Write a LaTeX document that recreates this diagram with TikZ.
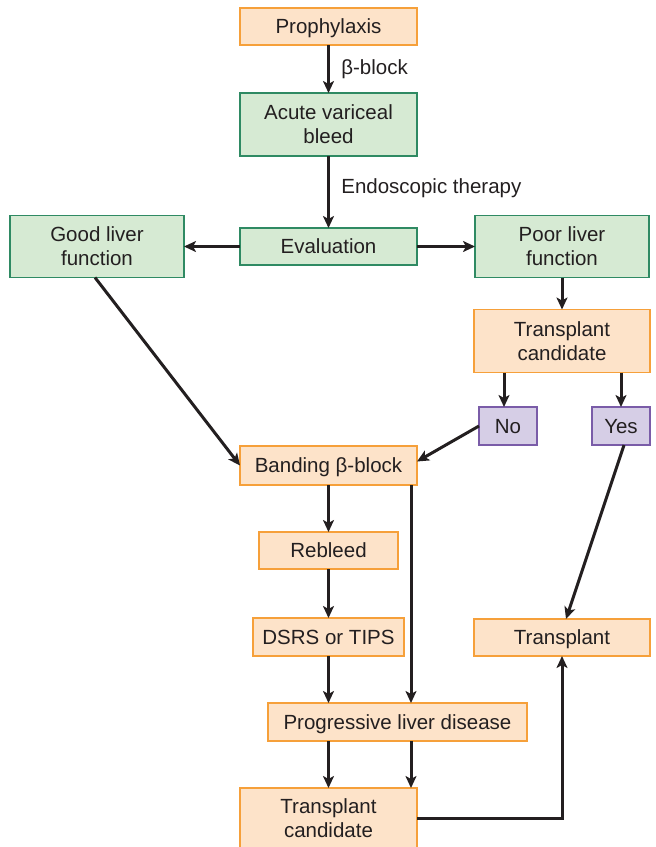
\documentclass[tikz,border=0pt]{standalone}
\usepackage{fontspec}
\setmainfont{Liberation Sans}
\usepackage{xcolor}
\usetikzlibrary{arrows.meta,positioning}

\definecolor{orfill}{HTML}{FDE3C9}
\definecolor{ordraw}{HTML}{F6A03A}
\definecolor{grfill}{HTML}{D6EAD3}
\definecolor{grdraw}{HTML}{2F8A63}
\definecolor{pufill}{HTML}{D6CEE6}
\definecolor{pudraw}{HTML}{7A5CA8}
\definecolor{ink}{HTML}{231F20}

\begin{document}
\begin{tikzpicture}[
    font=\fontsize{20.5}{24}\selectfont, text=ink,
    stage/.style={draw=ordraw, fill=orfill, line width=1.4pt, inner sep=0pt, outer sep=0pt, align=center, minimum width=177pt, minimum height=37pt},
    state/.style={draw=grdraw, fill=grfill, line width=1.4pt, inner sep=0pt, outer sep=0pt, align=center, minimum width=177pt, minimum height=37pt},
    choice/.style={draw=pudraw, fill=pufill, line width=1.4pt, inner sep=0pt, outer sep=0pt, align=center, minimum width=58pt, minimum height=38pt},
    oneline/.style={text height=14.7pt, text depth=0pt},
    arr/.style={-{Stealth[length=12pt,width=11pt,inset=3pt]}, line width=3pt, draw=ink}
]
\useasboundingbox (0,0) rectangle (656pt,-847pt);
\node[stage, oneline] (pro) at (328.5pt,-26.5pt) {Prophylaxis};
\node[state, below=48pt of pro, minimum height=63pt] (avb) {Acute variceal\\bleed};
\node[state, oneline, below=72pt of avb] (eval) {Evaluation};
\node[state, left=56pt of eval, minimum width=174pt, minimum height=62pt] (good) {Good liver\\function};
\node[state, right=58pt of eval, minimum width=174pt, minimum height=62pt] (poor) {Poor liver\\function};
\node[stage, below=32pt of poor, minimum width=176pt, minimum height=63pt] (tcr) {Transplant\\candidate};
\node[choice, oneline] (no) at (508pt,-426pt) {No};
\node[choice, oneline] (yes) at (621pt,-426pt) {Yes};
\node[stage, oneline, below=181pt of eval, minimum height=39pt] (band) {Banding β-block};
\node[stage, oneline, below=47pt of band, minimum width=139pt] (reb) {Rebleed};
\node[stage, oneline, below=49pt of reb, minimum width=151pt, minimum height=38pt] (dsrs) {DSRS or TIPS};
\node[stage, oneline, minimum width=259pt, minimum height=38pt] (prog) at (397.5pt,-722pt) {Progressive liver disease};
\node[stage, minimum height=60pt] (tcb) at (328.5pt,-818pt) {Transplant\\candidate};
\node[stage, oneline, minimum width=176pt] (tx) at (562pt,-637.5pt) {Transplant};
\coordinate (bx) at ([xshift=-6pt]band.south east);

\draw[arr] (pro) -- node[right=8pt, text=ink] {β-block} (avb);
\draw[arr] (avb) -- node[right=8pt, yshift=4pt] {Endoscopic therapy} (eval);
\draw[arr] (eval) -- (good);
\draw[arr] (eval) -- (poor);
\draw[arr] (poor) -- (tcr);
\draw[arr] ([xshift=-4pt]tcr.south -| no.north) -- ([xshift=-4pt]no.north);
\draw[arr] (tcr.south -| yes.north) -- (yes.north);
\draw[arr] ([xshift=-2pt]good.south) -- (band.west);
\draw[arr] (no.west) -- ([yshift=4pt]band.east);
\draw[arr] ([xshift=3pt]yes.south) -- ([xshift=4pt]tx.north);
\draw[arr] (band) -- (reb);
\draw[arr] (reb) -- (dsrs);
\draw[arr] (dsrs.south) -- (dsrs.south |- prog.north);
\draw[arr] (bx) -- (bx |- prog.north);
\draw[arr] (prog.south -| tcb) -- (tcb.north);
\draw[arr] (prog.south -| bx) -- (tcb.north -| bx);
\draw[arr] (tcb.east) -| (tx.south);
\end{tikzpicture}
\end{document}
